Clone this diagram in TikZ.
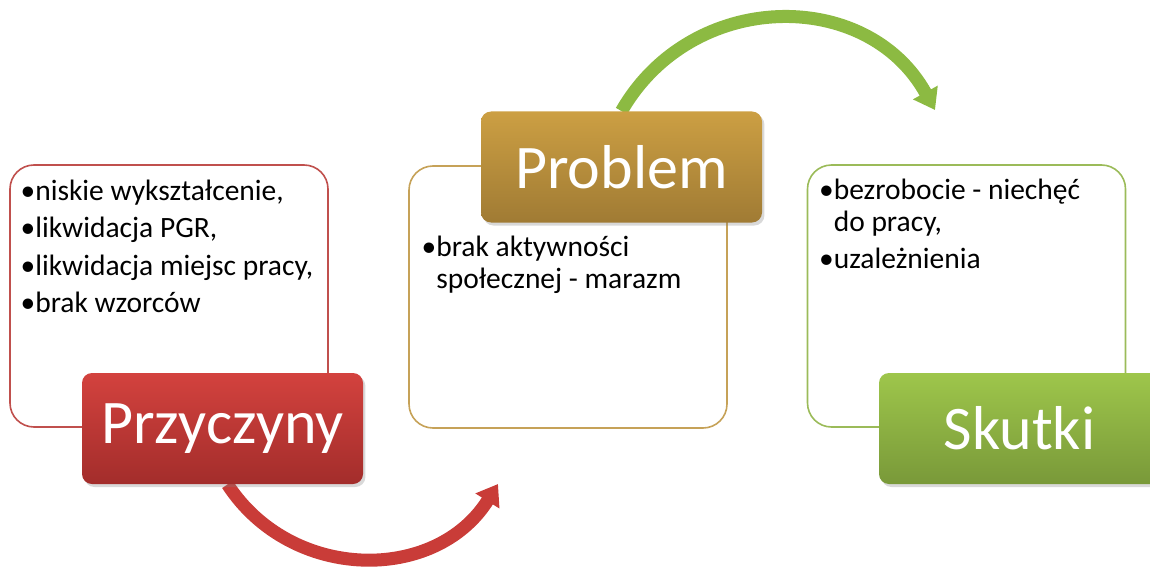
\documentclass[tikz,border=0pt]{standalone}
\usepackage{fontspec}
\setmainfont{Carlito}
\usetikzlibrary{positioning, shadows, arrows.meta, backgrounds}

\definecolor{redline}{RGB}{192,80,77}
\definecolor{redtop}{RGB}{211,66,62}
\definecolor{redbot}{RGB}{163,45,43}
\definecolor{redarrow}{RGB}{201,60,56}
\definecolor{goldline}{RGB}{198,162,88}
\definecolor{goldtop}{RGB}{204,159,67}
\definecolor{goldbot}{RGB}{160,123,52}
\definecolor{greenline}{RGB}{155,187,89}
\definecolor{greentop}{RGB}{158,198,75}
\definecolor{greenbot}{RGB}{121,153,57}
\definecolor{greenarrow}{RGB}{140,186,66}

\begin{document}
\begin{tikzpicture}[x=0.5pt,y=-0.5pt]
\tikzstyle{panel}=[%
draw, line width=0.8pt, rounded corners=12pt, fill=white,
minimum width=159pt, minimum height=131pt
]
\tikzstyle{title}=[%
rounded corners=5pt, minimum width=140.5pt, minimum height=55.5pt,
text=white, font=\fontsize{31}{36}\selectfont,
drop shadow={opacity=0.3, shadow xshift=1.2pt, shadow yshift=-1.5pt}
]
\tikzstyle{items}=[inner sep=0pt, align=left, font=\fontsize{14.75}{16}\selectfont]
\tikzstyle{turn}=[line width=6.5pt, -{Triangle[width=13.5pt,length=10pt]}]
   \useasboundingbox (0,0) rectangle (1150,567);
   \clip (0,0) rectangle (1150,567);
   \node[panel, draw=redline] (box1) at (169,296) {};
   \node[panel, draw=goldline] (box2) at (568,297) {};
   \node[panel, draw=greenline] (box3) at (966.5,296) {};
   \node[items, below right=7.5pt and 5.5pt of box1.north west] (list1) {•niskie wykształcenie,\\[2.75pt] •likwidacja PGR,\\[2.75pt] •likwidacja miejsc pracy,\\[2.75pt] •brak wzorców};
   \node[items, below right=35pt and 6.5pt of box2.north west] (list2) {•brak aktywności\\ \hphantom{•}społecznej - marazm};
   \node[items, below right=7pt and 6pt of box3.north west] (list3) {•bezrobocie - niechęć\\ \hphantom{•}do pracy,\\[2.75pt] •uzależnienia};
   \node[title, top color=redtop, bottom color=redbot] (lab1) at (222.5,428.5) {Przyczyny};
   \node[title, top color=goldtop, bottom color=goldbot] (lab2) at (621.5,167) {Problem};
   \node[title, top color=greentop, bottom color=greenbot] (lab3) at (1019.5,428.5) {Skutki};
   \coordinate (redtip) at (498,484);
   \coordinate (greentip) at (935,110);
   \begin{pgfonlayer}{background}
   \draw[turn, redarrow] ([xshift=2.5pt]lab1.south) .. controls +(64,98) and +(-62,99) .. (redtip);
   \draw[turn, greenarrow] (lab2.north) .. controls +(70,-122) and +(-68,-123) .. (greentip);
   \end{pgfonlayer}
\end{tikzpicture}
\end{document}
